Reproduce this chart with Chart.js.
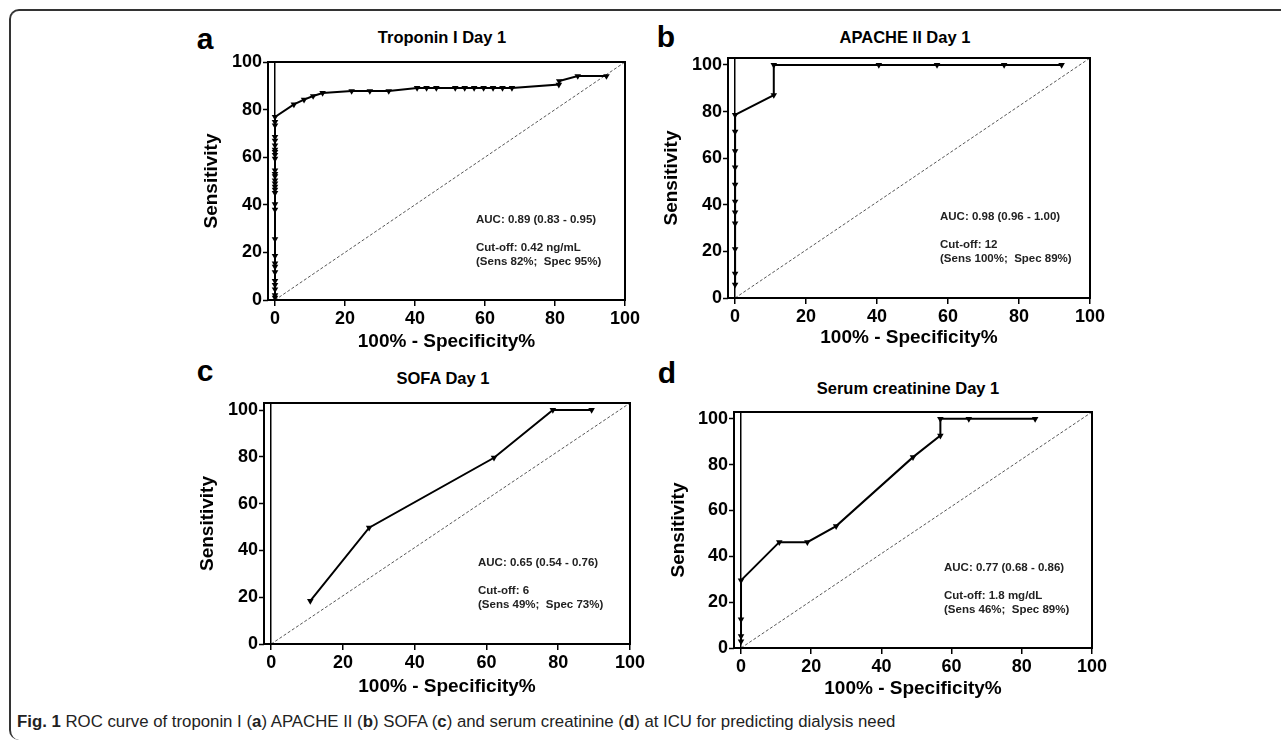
<!DOCTYPE html>
<html>
<head>
<meta charset="utf-8">
<script src="https://cdn.jsdelivr.net/npm/chart.js@4.4.0/dist/chart.umd.min.js"></script>
<style>
body { margin: 0; background: #fff; width: 1281px; height: 743px; overflow: hidden; position: relative; font-family: "Liberation Sans", Arial, sans-serif; color: #000; }
#frame { position: absolute; left: 9px; top: 9px; width: 1300px; height: 729px; border-top: 2px solid #333; border-left: 2px solid #333; border-radius: 10px 0 0 10px; }
canvas { position: absolute; }
.letter { position: absolute; font-weight: bold; font-size: 30px; transform: translate(-50%, -50%); }
.title { position: absolute; font-weight: bold; font-size: 16.5px; transform: translate(-50%, -50%); white-space: nowrap; }
.note { position: absolute; font-weight: bold; font-size: 11.5px; line-height: 14px; white-space: pre; color: #222; }
#caption { position: absolute; left: 17px; top: 712px; font-family: "Liberation Sans Narrow", "Liberation Sans", sans-serif; font-size: 16.8px; color: #222; white-space: nowrap; }
</style>
</head>
<body>
<div id="frame"></div>

<div class="letter" style="left:205px;top:39px">a</div>
<div class="letter" style="left:666px;top:37px">b</div>
<div class="letter" style="left:205px;top:371px">c</div>
<div class="letter" style="left:667px;top:373px">d</div>

<div class="title" style="left:442px;top:37px">Troponin I Day 1</div>
<div class="title" style="left:905px;top:37px">APACHE II Day 1</div>
<div class="title" style="left:443px;top:378px">SOFA Day 1</div>
<div class="title" style="left:908px;top:388px">Serum creatinine Day 1</div>

<canvas id="rocA"></canvas>
<canvas id="rocB"></canvas>
<canvas id="rocC"></canvas>
<canvas id="rocD"></canvas>

<div class="note" style="left:476px;top:212px">AUC: 0.89 (0.83 - 0.95)

Cut-off: 0.42 ng/mL
(Sens 82%;  Spec 95%)</div>
<div class="note" style="left:940px;top:209px">AUC: 0.98 (0.96 - 1.00)

Cut-off: 12
(Sens 100%;  Spec 89%)</div>
<div class="note" style="left:478px;top:555px">AUC: 0.65 (0.54 - 0.76)

Cut-off: 6
(Sens 49%;  Spec 73%)</div>
<div class="note" style="left:944px;top:560px">AUC: 0.77 (0.68 - 0.86)

Cut-off: 1.8 mg/dL
(Sens 46%;  Spec 89%)</div>

<div id="caption"><b>Fig. 1</b> ROC curve of troponin I (<b>a</b>) APACHE II (<b>b</b>) SOFA (<b>c</b>) and serum creatinine (<b>d</b>) at ICU for predicting dialysis need</div>

<script>
// tick labels shared by all four panels
const xTicks = [0, 20, 40, 60, 80, 100];
const yTicks = [0, 20, 40, 60, 80, 100];
const chanceX = [0, 100];

// a) troponin I day 1  (100% - specificity, sensitivity)
const troponinFpr = [0, 0, 0, 0, 0, 0, 0, 0, 0, 0, 0, 0, 0, 0, 0, 0, 0, 0, 0, 0, 0, 0, 0, 0, 0, 0, 0, 0, 0, 0,
  5.4, 8.3, 10.9, 13.6, 21.9, 27.1, 32.5, 40.6, 43.3, 46.1, 51.5, 54.2, 56.9, 59.6, 62.3, 65.0, 67.7, 81.1, 81.2, 86.5, 94.7];
const troponinSens = [1, 2, 4.5, 6.3, 8, 11.7, 14, 15.4, 18.5, 25.6, 38, 40.3, 45, 46.4, 47.6, 49, 50.3, 52, 53, 54.5,
  59.4, 61, 62.2, 63.2, 65, 67, 68.5, 73.4, 74.8, 76.9,
  82.2, 84.2, 85.7, 87, 87.8, 87.8, 87.8, 89.1, 89.1, 89.1, 89.1, 89.1, 89.1, 89.1, 89.1, 89.1, 89.1, 90.5, 92, 94.1, 94.1];

// b) APACHE II day 1
const apacheFpr = [0, 0, 0, 0, 0, 0, 0, 0, 0, 0, 0, 10.9, 10.9, 40.5, 56.9, 75.8, 92];
const apacheSens = [5.7, 10.4, 21, 32, 36.7, 41.4, 48.6, 56, 63, 71.4, 78.6, 87.1, 100, 100, 100, 100, 100];

// c) SOFA day 1
const sofaFpr = [10.9, 27.3, 62.1, 78.5, 89.3];
const sofaSens = [18.4, 49.7, 79.6, 100, 100];

// d) serum creatinine day 1
const creatFpr = [0, 0, 0, 0, 10.9, 18.9, 27.1, 49, 56.8, 56.8, 64.9, 83.8];
const creatSens = [2.9, 5.2, 12.5, 29.5, 46.2, 46.2, 53.2, 83.3, 92.7, 100, 100, 100];

const FONT = '"Liberation Sans", Arial, sans-serif';

const framePlugin = {
  id: 'frame',
  afterDraw(chart) {
    const a = chart.chartArea, ctx = chart.ctx;
    ctx.save();
    ctx.strokeStyle = '#000';
    ctx.lineWidth = 2;
    ctx.strokeRect(a.left, a.top, a.right - a.left, a.bottom - a.top);
    ctx.restore();
  }
};

// box = plot frame in page pixels, plus where the axis titles sit
function rocChart(id, box, fpr, sens, yMax) {
  const canvas = document.getElementById(id);
  const left = box.yTitleX - 11;
  const top = box.top - 12;
  const right = box.right + 20;
  const bottom = box.xTitleY + 14;
  canvas.style.left = left + 'px';
  canvas.style.top = top + 'px';
  canvas.width = right - left;
  canvas.height = bottom - top;

  new Chart(canvas, {
    type: 'scatter',
    data: {
      datasets: [{
        data: fpr.map((x, i) => ({ x: x, y: sens[i] })),
        showLine: true,
        borderColor: '#000',
        borderWidth: 2,
        backgroundColor: '#000',
        pointStyle: 'triangle',
        rotation: 180,
        pointRadius: 3.8,
        pointBorderWidth: 0
      }, {
        data: chanceX.map((x, i) => ({ x: x, y: i ? yMax : 0 })),
        showLine: true,
        borderColor: '#444',
        borderWidth: 0.9,
        borderDash: [3, 2],
        pointRadius: 0
      }]
    },
    options: {
      responsive: false,
      animation: false,
      layout: { padding: { top: 12, right: 20, left: 0, bottom: 0 } },
      plugins: { legend: { display: false }, tooltip: { enabled: false } },
      scales: {
        x: {
          type: 'linear', min: -2, max: 100,
          afterBuildTicks: s => { s.ticks = xTicks.map(v => ({ value: v })); },
          afterFit: s => { s.height = bottom - box.bottom; s.paddingLeft = 0; s.paddingRight = 0; },
          border: { display: false },
          grid: {
            drawOnChartArea: true,
            color: c => (c.tick && c.tick.value === 0) ? '#000' : 'rgba(0,0,0,0)',
            lineWidth: 1.5,
            tickColor: '#000',
            tickLength: 6,
            tickWidth: 1.5
          },
          ticks: { color: '#000', padding: 2, maxRotation: 0, autoSkip: false, font: { family: FONT, weight: 'bold', size: 18 } },
          title: { display: true, text: '100% - Specificity%', color: '#000', padding: { top: 0, bottom: 3 }, font: { family: FONT, weight: 'bold', size: 19 } }
        },
        y: {
          type: 'linear', min: 0, max: yMax,
          afterBuildTicks: s => { s.ticks = yTicks.map(v => ({ value: v })); },
          afterFit: s => { s.width = box.left - left; s.paddingTop = 0; s.paddingBottom = 0; },
          border: { display: false },
          grid: { drawOnChartArea: false, tickColor: '#000', tickLength: 5, tickWidth: 1.5 },
          ticks: { color: '#000', padding: 1, autoSkip: false, font: { family: FONT, weight: 'bold', size: 18 } },
          title: { display: true, text: 'Sensitivity', color: '#000', padding: { top: 0, bottom: 0 }, font: { family: FONT, weight: 'bold', size: 19 } }
        }
      }
    },
    plugins: [framePlugin]
  });
}

document.addEventListener('DOMContentLoaded', function () {
  rocChart('rocA', { left: 268, right: 625, top: 62, bottom: 300, yTitleX: 211, xTitleY: 342 }, troponinFpr, troponinSens, 100);
  rocChart('rocB', { left: 728, right: 1090, top: 58, bottom: 298, yTitleX: 671, xTitleY: 338 }, apacheFpr, apacheSens, 103);
  rocChart('rocC', { left: 264, right: 630, top: 403, bottom: 644, yTitleX: 207, xTitleY: 687 }, sofaFpr, sofaSens, 103);
  rocChart('rocD', { left: 734, right: 1092, top: 412, bottom: 648, yTitleX: 678, xTitleY: 689 }, creatFpr, creatSens, 103);
});
</script>
</body>
</html>
